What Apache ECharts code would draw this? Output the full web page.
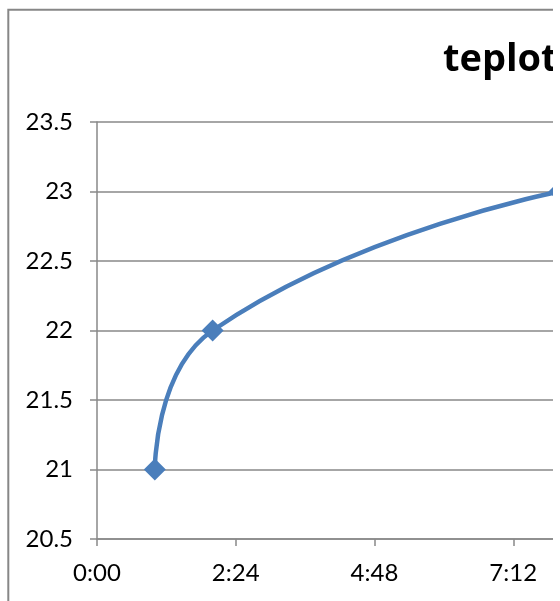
<!DOCTYPE html>
<html>
<head>
<meta charset="utf-8">
<script src="https://cdn.jsdelivr.net/npm/echarts@6/dist/echarts.min.js"></script>
<style>
  html, body { margin: 0; padding: 0; background: #fff; }
  #wrap { width: 553px; height: 601px; overflow: hidden; }
  #chart { width: 720px; height: 601px; }
</style>
</head>
<body>
<div id="wrap"><div id="chart"></div></div>
<script>
// measured times (minutes from 0:00) and temperatures
const timeLabels = ['1:00', '2:00', '8:00']
const timeMinutes = [60, 120, 480]
const temps = [21, 22, 23]
const titleText = 'teplota'

function fmtTime(v) {
  const h = Math.floor(v / 60)
  const m = Math.round(v % 60)
  return h + ':' + (m < 10 ? '0' + m : m)
}

const data = []
timeMinutes.forEach((t, i) => {
  data.push({ value: [t, temps[i]], name: timeLabels[i] })
})

let myChart = echarts.init(document.getElementById('chart'))
let option = {
  animation: false,
  title: {
    text: titleText,
    left: 443,
    top: 41,
    padding: 0,
    textStyle: { fontFamily: 'Open Sans', fontWeight: 'bold', fontSize: 38, color: '#000' }
  },
  graphic: [
    {
      type: 'rect',
      shape: { x: 8.3, y: 9.7, width: 900, height: 900 },
      style: { fill: 'none', stroke: '#878787', lineWidth: 2 },
      silent: true
    }
  ],
  grid: { left: 97, top: 122, width: 555, height: 417, outerBoundsMode: 'none' },
  xAxis: {
    type: 'value',
    min: 0,
    max: 576,
    interval: 144,
    axisLine: { show: true, lineStyle: { color: '#898989', width: 1.5 } },
    axisTick: { show: true, length: 7, lineStyle: { color: '#898989', width: 1.5 } },
    axisLabel: {
      formatter: fmtTime,
      margin: 22,
      fontFamily: 'Lato',
      fontSize: 24,
      color: '#000'
    },
    splitLine: { show: false }
  },
  yAxis: {
    type: 'value',
    min: 20.5,
    max: 23.5,
    interval: 0.5,
    axisLine: { show: true, lineStyle: { color: '#898989', width: 1.5 } },
    axisTick: { show: true, length: 7, lineStyle: { color: '#898989', width: 1.5 } },
    axisLabel: {
      margin: 24,
      fontFamily: 'Lato',
      fontSize: 24,
      color: '#000'
    },
    splitLine: { show: true, lineStyle: { color: '#898989', width: 1.5 } }
  },
  series: [
    {
      name: 'teplota',
      type: 'line',
      data: data,
      smooth: 0.5,
      symbol: 'diamond',
      symbolSize: 22,
      lineStyle: { color: '#4a7ebb', width: 4.5 },
      itemStyle: { color: '#4a7ebb' }
    }
  ]
}

myChart.setOption(option)
</script>
</body>
</html>
